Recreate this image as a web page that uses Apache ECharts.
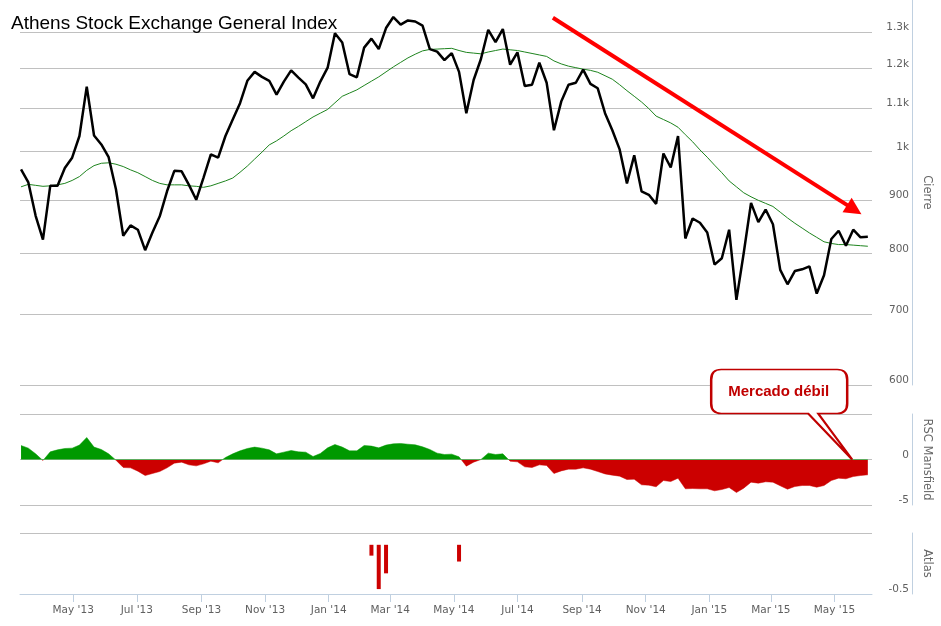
<!DOCTYPE html>
<html>
<head>
<meta charset="utf-8">
<script src="https://cdn.jsdelivr.net/npm/echarts@6/dist/echarts.min.js"></script>
<style>
html,body{margin:0;padding:0;background:#fff;}
#c{width:941px;height:626px;}
</style>
</head>
<body>
<div id="c"></div>
<script>
// ---- data (weekly closes) ----
const firstWeek = '2013-03-12';
const closeValues = [962,935,869,825,928,928,965,987,1035,1153,
1036,1016,988,921,832,851,843,806,838,868,
917,959,958,930,900,945,994,987,1035,1073,
1112,1168,1191,1178,1168,1133,1166,1195,1176,1159,
1124,1166,1202,1296,1270,1185,1177,1256,1281,1252,
1311,1343,1321,1333,1330,1318,1252,1245,1222,1241,
1191,1088,1170,1225,1306,1271,1308,1210,1243,1155,
1158,1215,1163,1048,1116,1158,1163,1197,1160,1149,
1088,1048,1005,933,992,917,910,892,996,966,
1035,827,864,856,838,781,792,843,723,801,
894,857,881,853,772,748,770,773,778,733,
763,826,841,814,843,829,830];
const maValues = [926,931,929,927,928,930,933,939,947,960,
970,975,976,973,968,961,955,947,939,933,
930,930,930,928,927,925,928,933,938,944,
956,969,984,999,1015,1024,1035,1047,1057,1068,
1079,1088,1097,1113,1129,1137,1145,1156,1167,1178,
1191,1204,1216,1228,1238,1247,1251,1252,1253,1254,
1248,1243,1241,1239,1244,1248,1252,1250,1248,1244,
1240,1236,1232,1220,1212,1206,1202,1198,1195,1190,
1181,1172,1158,1143,1129,1115,1099,1081,1073,1065,
1055,1038,1022,1004,988,971,955,938,926,914,
906,899,893,887,876,865,855,846,837,829,
821,818,816,816,815,814,813];
const rscValues = [1.54,1.25,0.62,-0.11,0.84,1.06,1.21,1.25,1.58,2.42,
1.36,1.10,0.62,-0.07,-0.88,-0.92,-1.28,-1.76,-1.54,-1.32,
-0.92,-0.40,-0.29,-0.59,-0.70,-0.48,-0.18,-0.37,0.22,0.62,
0.95,1.21,1.36,1.25,1.06,0.62,0.81,0.99,0.84,0.81,
0.33,0.66,1.28,1.65,1.36,0.95,0.95,1.54,1.47,1.28,
1.58,1.72,1.76,1.68,1.61,1.39,1.10,0.70,0.55,0.59,
0.29,-0.73,-0.29,0.00,0.70,0.55,0.62,-0.18,-0.26,-0.81,
-0.88,-0.59,-0.66,-1.54,-1.25,-1.06,-1.06,-0.92,-1.06,-1.32,
-1.58,-1.72,-1.83,-2.20,-2.16,-2.78,-2.82,-3.00,-2.31,-2.42,
-2.05,-3.22,-3.19,-3.22,-3.22,-3.44,-3.30,-3.08,-3.63,-3.15,
-2.49,-2.60,-2.45,-2.49,-2.89,-3.26,-2.97,-2.86,-2.86,-3.04,
-2.86,-2.31,-2.05,-2.12,-1.87,-1.76,-1.68];
const atlasDates = ['2014-02-11','2014-02-18','2014-02-25','2014-05-06'];
const atlasValues = [-0.11,-0.45,-0.29,-0.17];
const priceTicks = [600,700,800,900,1000,1100,1200,1300];
const rscTicks = [-5,0,5];
const rscLabels = [0,-5];
const atlasLabels = [-0.5];
const monthTicks = ['2013-05-01','2013-07-01','2013-09-01','2013-11-01','2014-01-01','2014-03-01',
  '2014-05-01','2014-07-01','2014-09-01','2014-11-01','2015-01-01','2015-03-01','2015-05-01'];
const monthNames = ['Jan','Feb','Mar','Apr','May','Jun','Jul','Aug','Sep','Oct','Nov','Dec'];
const titleText = 'Athens Stock Exchange General Index';
const calloutText = 'Mercado débil';

// ---- helpers ----
const ts = s => Date.parse(s + 'T00:00:00Z');
const DAY = 86400000;
const start = ts(firstWeek);
const weeks = closeValues.map((_, i) => start + i * 7 * DAY);
const closeData = weeks.map((t, i) => [t, closeValues[i]]);
const maData = weeks.map((t, i) => [t, maValues[i]]);
const rscData = weeks.map((t, i) => [t, rscValues[i]]);
const atlasData = atlasDates.map((d, i) => [ts(d), atlasValues[i]]);
const monthTs = monthTicks.map(ts);

const xMin = ts('2013-03-11');
const xMax = ts('2015-06-06');
const axisCol = '#c0d0e0';
const gridCol = '#c0c0c0';
const labelFont = {color: '#606060', fontSize: 10.5, fontFamily: 'DejaVu Sans'};

function yAxisBase(gridIndex, name) {
  return {
    gridIndex: gridIndex,
    position: 'right',
    offset: 40,
    name: name,
    nameLocation: 'middle',
    nameRotate: -90,
    nameGap: 6,
    nameTextStyle: {color: '#666', fontSize: 11.5, fontFamily: 'DejaVu Sans'},
    axisLine: {show: true, onZero: false, lineStyle: {color: axisCol, width: 1}},
    axisTick: {show: false},
    splitLine: {show: true, lineStyle: {color: gridCol, width: 1}},
    axisLabel: Object.assign({inside: true, margin: 3, verticalAlign: 'bottom', lineHeight: 9}, labelFont)
  };
}

const yPrice = yAxisBase(0, 'Cierre');
Object.assign(yPrice, {type: 'log', logBase: 10, min: 600, max: 1394});
yPrice.axisTick.customValues = priceTicks;
yPrice.axisLabel.customValues = priceTicks;
yPrice.axisLabel.formatter = v => v >= 1000 ? (Math.round(v / 100) / 10) + 'k' : String(Math.round(v));

const yRsc = yAxisBase(1, 'RSC Mansfield');
Object.assign(yRsc, {type: 'value', min: -5, max: 5, interval: 5});
yRsc.axisTick.customValues = rscTicks;
yRsc.axisLabel.customValues = rscLabels;
yRsc.axisLabel.formatter = v => String(v);

const yAtlas = yAxisBase(2, 'Atlas');
Object.assign(yAtlas, {type: 'value', min: -0.5, max: 0.12});
yAtlas.axisTick.customValues = [-0.5, 0.12];
yAtlas.axisLabel.customValues = atlasLabels;
yAtlas.axisLabel.formatter = v => String(v);

function xHidden(gridIndex) {
  return {type: 'value', gridIndex: gridIndex, min: xMin, max: xMax, show: false,
          axisLine: {onZero: false}, splitLine: {show: false}};
}

const option = {
  animation: false,
  backgroundColor: '#fff',
  title: {
    text: titleText, left: 11, top: 14, padding: 0,
    textStyle: {fontFamily: 'Liberation Sans', fontSize: 19, fontWeight: 'normal', color: '#000'}
  },
  grid: [
    {left: 20, right: 69, top: 0, height: 385},
    {left: 20, right: 69, top: 414, height: 91},
    {left: 20, right: 69, top: 533, height: 61}
  ],
  xAxis: [
    xHidden(0),
    xHidden(1),
    {
      type: 'value', gridIndex: 2, min: xMin, max: xMax,
      axisLine: {show: true, onZero: false, lineStyle: {color: axisCol}},
      axisTick: {show: true, length: 8, customValues: monthTs, lineStyle: {color: axisCol}},
      splitLine: {show: false},
      axisLabel: Object.assign({
        customValues: monthTs, margin: 11, hideOverlap: false,
        formatter: v => { const d = new Date(v); return monthNames[d.getUTCMonth()] + " '" + String(d.getUTCFullYear()).slice(2); }
      }, labelFont)
    }
  ],
  yAxis: [yPrice, yRsc, yAtlas],
  visualMap: {
    show: false, type: 'piecewise', seriesIndex: 2, dimension: 1,
    pieces: [{min: 0, max: 10, color: '#009900'}, {min: -10, max: 0, color: '#cc0000'}]
  },
  series: [
    {
      name: 'MA', type: 'line', xAxisIndex: 0, yAxisIndex: 0, data: maData,
      showSymbol: false, symbol: 'none', silent: true,
      lineStyle: {color: '#1e841e', width: 1}
    },
    {
      name: 'Cierre', type: 'line', xAxisIndex: 0, yAxisIndex: 0, data: closeData,
      showSymbol: false, symbol: 'none', silent: true,
      lineStyle: {color: '#000', width: 2.5},
      markLine: {
        silent: true, symbol: ['none', 'triangle'], symbolSize: 17,
        label: {show: false},
        itemStyle: {color: '#ff0000'},
        lineStyle: {color: '#ff0000', width: 4, type: 'solid'},
        data: [[{coord: [ts('2014-08-04'), 1341]}, {coord: [ts('2015-05-20'), 881]}]]
      }
    },
    {
      name: 'RSC Mansfield', type: 'line', xAxisIndex: 1, yAxisIndex: 1, data: rscData,
      showSymbol: false, symbol: 'none', silent: true,
      lineStyle: {width: 0.5},
      areaStyle: {opacity: 1},
      markPoint: {
        silent: true,
        symbol: 'path://M10,0 L126,0 Q136,0 136,10 L136,34 Q136,44 126,44 L107,44 L141,90 L97,44 L10,44 Q0,44 0,34 L0,10 Q0,0 10,0 Z',
        symbolSize: [141, 90],
        symbolOffset: [-70.5, -45],
        itemStyle: {color: '#ffffff', borderColor: '#c00000', borderWidth: 2},
        label: {
          show: true, position: 'inside', offset: [-3, -23], formatter: calloutText,
          color: '#c00000', fontWeight: 'bold', fontSize: 15, fontFamily: 'Liberation Sans'
        },
        data: [{coord: [ts('2015-05-18'), 0]}]
      }
    },
    {
      name: 'Atlas', type: 'bar', xAxisIndex: 2, yAxisIndex: 2, data: atlasData,
      barWidth: 4, silent: true, itemStyle: {color: '#cc0000'}
    }
  ]
};

const chart = echarts.init(document.getElementById('c'), null, {renderer: 'canvas'});
chart.setOption(option);
</script>
</body>
</html>
